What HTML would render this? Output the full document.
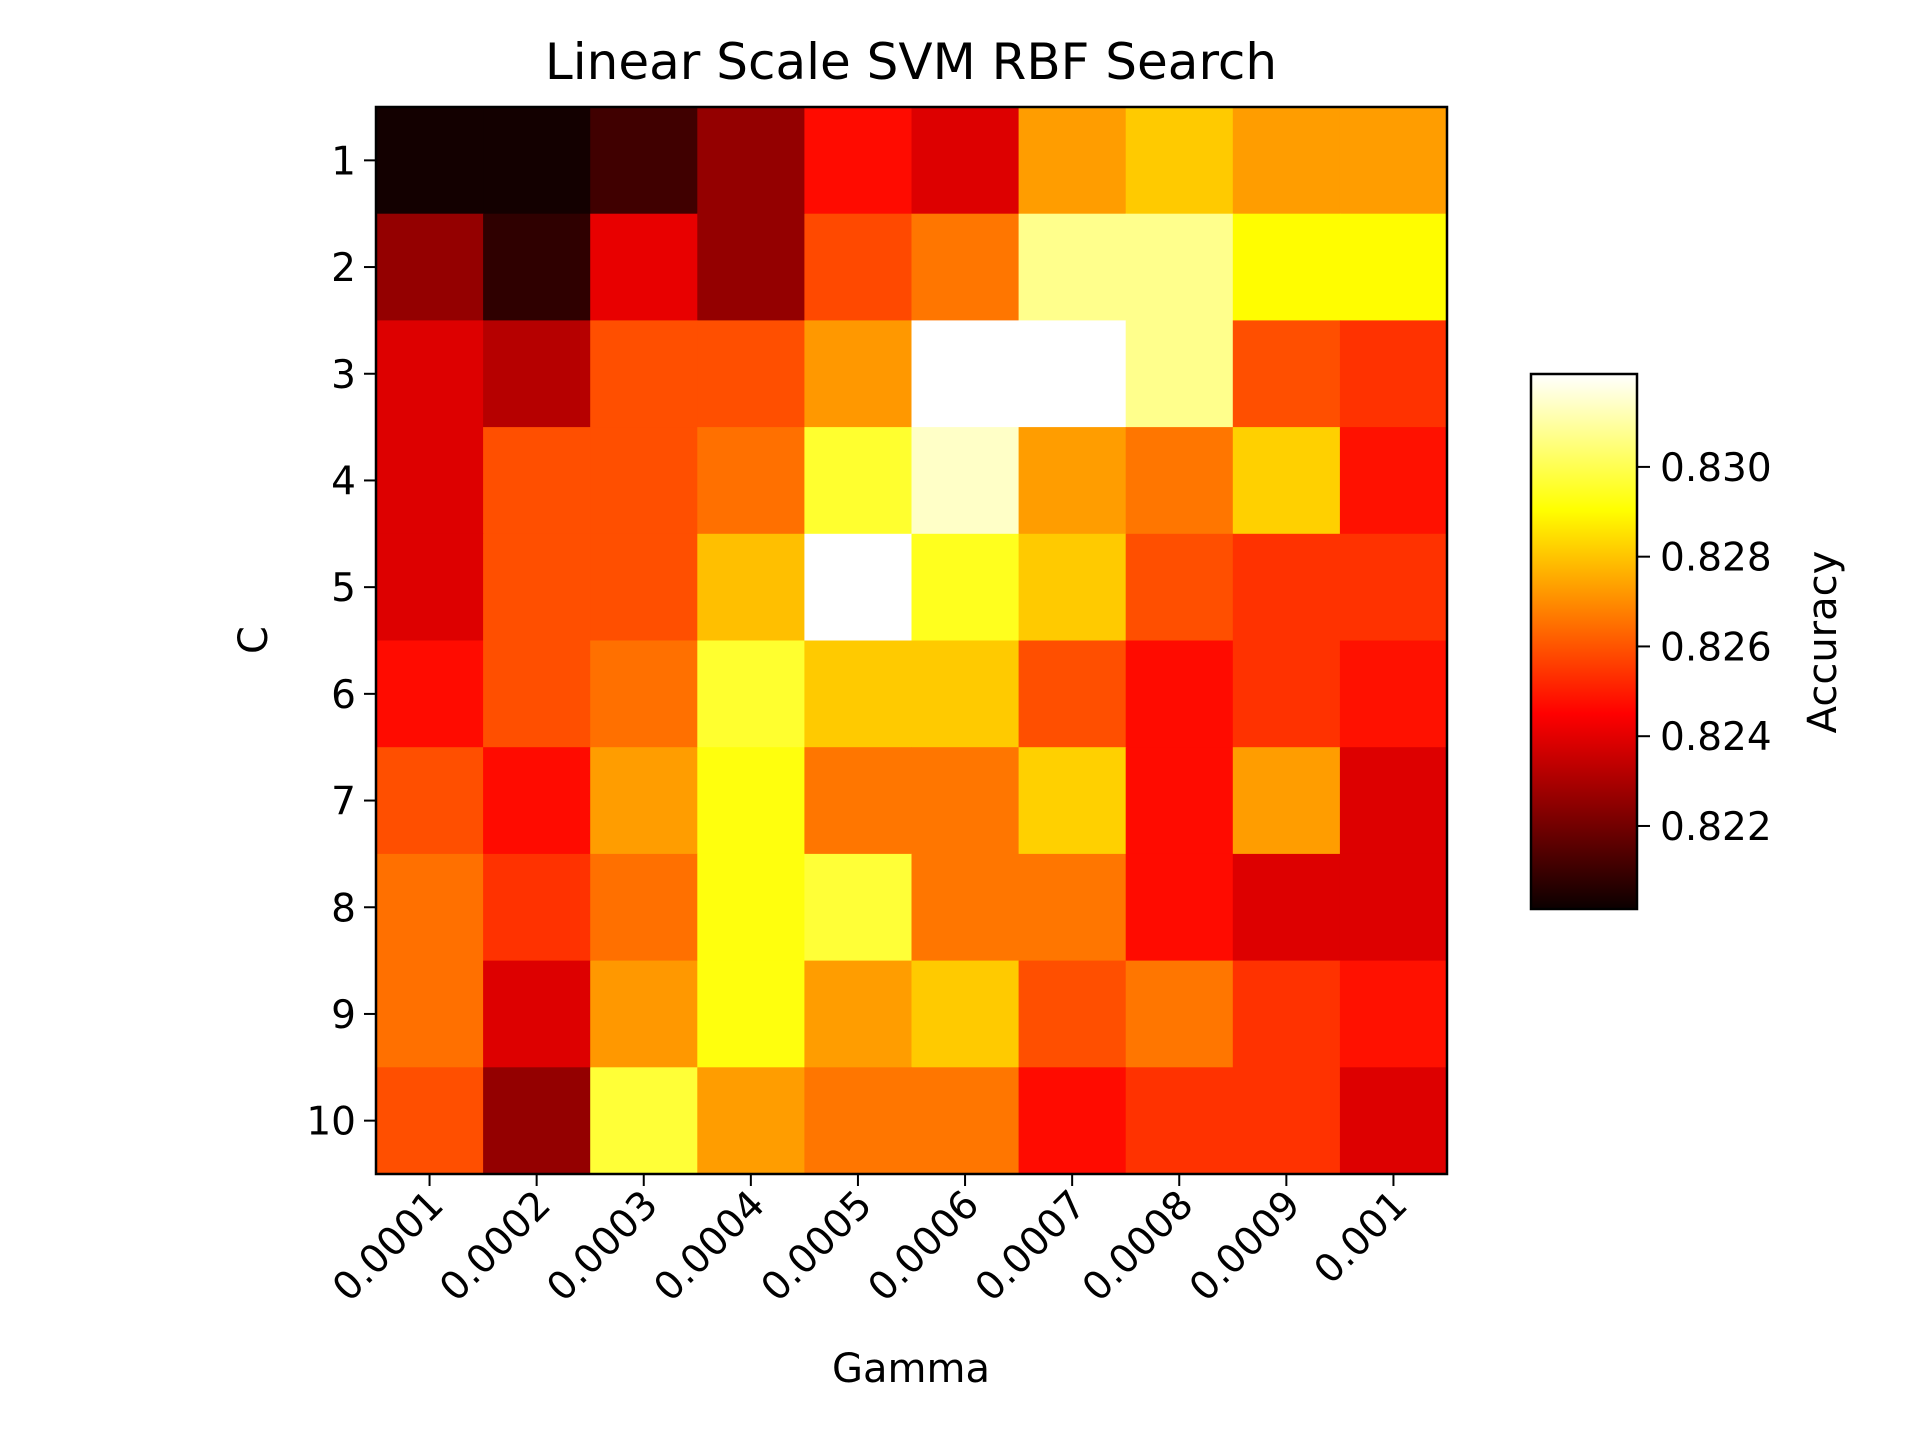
<!DOCTYPE html>
<html><head><meta charset="utf-8"><style>
html,body{margin:0;padding:0;background:#fff;}
svg text{font-family:"DejaVu Sans","Liberation Sans",sans-serif;fill:#000;}
</style></head><body>
<svg id="chart" width="1920" height="1440" viewBox="0 0 1920 1440" xmlns="http://www.w3.org/2000/svg">
<defs>
<linearGradient id="hotgrad" x1="0" y1="1" x2="0" y2="0">
<stop offset="0" stop-color="#0b0000"/>
<stop offset="0.365" stop-color="#ff0000"/>
<stop offset="0.746" stop-color="#ffff00"/>
<stop offset="1" stop-color="#ffffff"/>
</linearGradient>
</defs>
<text x="911" y="79" font-size="50" text-anchor="middle">Linear Scale SVM RBF Search</text>
<g id="cells"></g>
<rect x="376" y="107" width="1071" height="1067" fill="none" stroke="#000" stroke-width="2.5"/>
<g id="xticks"></g>
<g id="yticks"></g>
<text x="911" y="1382" font-size="40" text-anchor="middle">Gamma</text>
<text x="0" y="0" font-size="40" text-anchor="middle" transform="translate(267,640) rotate(-90)">C</text>
<rect x="1531" y="374" width="106" height="535" fill="url(#hotgrad)" stroke="#000" stroke-width="2.5"/>
<g id="cbticks"></g>
<text x="0" y="0" font-size="40" text-anchor="middle" transform="translate(1836,642) rotate(-90)">Accuracy</text>
</svg>
<script>
const gammaLabels = ["0.0001","0.0002","0.0003","0.0004","0.0005","0.0006","0.0007","0.0008","0.0009","0.001"];
const cLabels = ["1","2","3","4","5","6","7","8","9","10"];
const row1 = [0.8203,0.8203,0.8211,0.8226,0.8247,0.8239,0.8273,0.8281,0.8273,0.8273];
const row2 = [0.8226,0.8208,0.8241,0.8226,0.8258,0.8266,0.8307,0.8307,0.8290,0.8290];
const row3 = [0.8239,0.8232,0.8259,0.8259,0.8272,0.8321,0.8321,0.8307,0.8259,0.8254];
const row4 = [0.8239,0.8259,0.8259,0.8265,0.8296,0.8314,0.8273,0.8266,0.8282,0.8248];
const row5 = [0.8239,0.8259,0.8259,0.8279,0.8321,0.8294,0.8281,0.8259,0.8254,0.8254];
const row6 = [0.8247,0.8259,0.8265,0.8296,0.8281,0.8281,0.8259,0.8247,0.8254,0.8248];
const row7 = [0.8259,0.8247,0.8273,0.8292,0.8266,0.8266,0.8282,0.8247,0.8273,0.8239];
const row8 = [0.8265,0.8254,0.8265,0.8292,0.8297,0.8266,0.8266,0.8247,0.8239,0.8239];
const row9 = [0.8265,0.8239,0.8272,0.8292,0.8273,0.8281,0.8259,0.8266,0.8254,0.8248];
const row10 = [0.8259,0.8226,0.8297,0.8273,0.8266,0.8266,0.8247,0.8254,0.8254,0.8239];
const cbTicks = [0.822,0.824,0.826,0.828,0.830];
const cbTickLabels = ["0.822","0.824","0.826","0.828","0.830"];
const vmin = 0.82015, vmax = 0.83207;

const rows = [row1,row2,row3,row4,row5,row6,row7,row8,row9,row10];
const NS = "http://www.w3.org/2000/svg";
const px0 = 376, px1 = 1447, py0 = 107, py1 = 1174;
const cw = (px1-px0)/gammaLabels.length, ch = (py1-py0)/cLabels.length;
const xPos = i => px0 + i*cw;
const yPos = j => py0 + j*ch;
const cbTop = 374, cbBot = 909;
const cbY = v => cbBot - (v - vmin)/(vmax - vmin)*(cbBot - cbTop);
function hot(v){
  let t = Math.max(0, Math.min(1, (v - vmin)/(vmax - vmin)));
  const r = Math.min(1, 0.0416 + t/0.365*(1-0.0416));
  const g = Math.max(0, Math.min(1, (t-0.365)/(0.746-0.365)));
  const b = Math.max(0, Math.min(1, (t-0.746)/(1-0.746)));
  return `rgb(${Math.round(r*255)},${Math.round(g*255)},${Math.round(b*255)})`;
}
const cells = document.getElementById('cells');
rows.forEach((row, j) => row.forEach((v, i) => {
  const r = document.createElementNS(NS,'rect');
  r.setAttribute('x', xPos(i)); r.setAttribute('y', yPos(j));
  r.setAttribute('width', cw+0.6); r.setAttribute('height', ch+0.6);
  r.setAttribute('fill', hot(v));
  
  
  cells.appendChild(r);
}));
const xt = document.getElementById('xticks');
gammaLabels.forEach((lab, i) => {
  const x = xPos(i) + cw/2;
  const l = document.createElementNS(NS,'line');
  l.setAttribute('x1',x); l.setAttribute('x2',x); l.setAttribute('y1',py1); l.setAttribute('y2',py1+12);
  l.setAttribute('stroke','#000'); l.setAttribute('stroke-width','2');
  
  
  xt.appendChild(l);
  const t = document.createElementNS(NS,'text');
  t.setAttribute('font-size','39'); t.setAttribute('text-anchor','end');
  t.setAttribute('transform',`translate(${x+16},${py1+33}) rotate(-45)`);
  t.textContent = lab;
  
  
  xt.appendChild(t);
});
const yt = document.getElementById('yticks');
cLabels.forEach((lab, j) => {
  const y = yPos(j) + ch/2;
  const l = document.createElementNS(NS,'line');
  l.setAttribute('x1',px0-12); l.setAttribute('x2',px0); l.setAttribute('y1',y); l.setAttribute('y2',y);
  l.setAttribute('stroke','#000'); l.setAttribute('stroke-width','2');
  
  
  yt.appendChild(l);
  const t = document.createElementNS(NS,'text');
  t.setAttribute('font-size','39'); t.setAttribute('text-anchor','end');
  t.setAttribute('x', px0-20); t.setAttribute('y', y+14);
  t.textContent = lab;
  
  
  yt.appendChild(t);
});
const cbt = document.getElementById('cbticks');
cbTicks.forEach((v, k) => {
  const y = cbY(v);
  const l = document.createElementNS(NS,'line');
  l.setAttribute('x1',1637); l.setAttribute('x2',1650); l.setAttribute('y1',y); l.setAttribute('y2',y);
  l.setAttribute('stroke','#000'); l.setAttribute('stroke-width','2');
  
  
  cbt.appendChild(l);
  const t = document.createElementNS(NS,'text');
  t.setAttribute('font-size','39'); t.setAttribute('x', 1660); t.setAttribute('y', y+14);
  t.textContent = cbTickLabels[k];
  
  
  cbt.appendChild(t);
});
</script>
</body></html>
